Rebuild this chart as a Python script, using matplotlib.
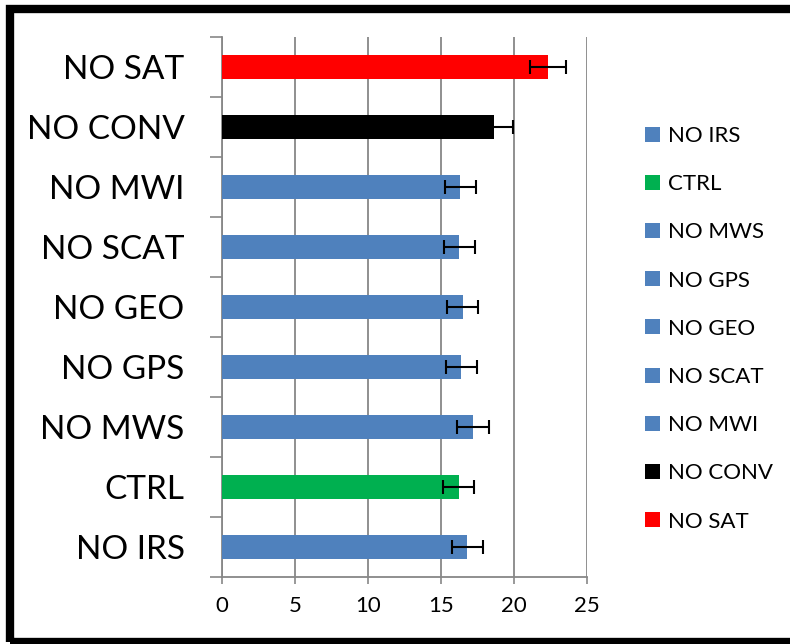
import matplotlib
matplotlib.use('Agg')
import matplotlib.pyplot as plt
from matplotlib.patches import Patch, Rectangle

plt.rcParams['font.family'] = ['Lato', 'DejaVu Sans']

# bottom to top, as in the chart
categories = ['NO IRS', 'CTRL', 'NO MWS', 'NO GPS', 'NO GEO', 'NO SCAT', 'NO MWI', 'NO CONV', 'NO SAT']
values = [16.8, 16.22, 17.18, 16.4, 16.48, 16.25, 16.32, 18.63, 22.33]
errors = [1.05, 1.07, 1.1, 1.05, 1.07, 1.05, 1.05, 1.3, 1.25]
colors = ['#4F81BD', '#00B050', '#4F81BD', '#4F81BD', '#4F81BD', '#4F81BD', '#4F81BD', '#000000', '#FF0000']
xticks = [0, 5, 10, 15, 20, 25]

W, H = 790, 644
fig = plt.figure(figsize=(W / 100, H / 100), dpi=100)
ax = fig.add_axes([222 / W, 1 - 577 / H, (587 - 222) / W, (577 - 37) / H])

grey = '#878787'
pos = list(range(len(categories)))
ax.barh(pos, values, height=0.4, color=colors, zorder=3)
ax.errorbar(values, pos, xerr=errors, fmt='none', ecolor='black',
            elinewidth=1.5, capsize=5, capthick=1.5, zorder=4)

ax.set_xlim(0, 25)
ax.set_ylim(-0.5, len(categories) - 0.5)
ax.set_xticks(xticks)
ax.set_xticklabels([str(t) for t in xticks], fontsize=16)
ax.tick_params(axis='x', length=5, width=1.2, color=grey, pad=9)

ax.set_yticks(pos)
ax.set_yticklabels(categories, fontsize=24)
ax.set_yticks([p - 0.5 for p in pos] + [len(categories) - 0.5], minor=True)
ax.tick_params(axis='y', which='major', length=0, pad=27)
ax.tick_params(axis='y', which='minor', length=8.5, width=1.2, color=grey)

ax.grid(axis='x', color=grey, linewidth=1.3, zorder=0)
for s in ['top', 'right']:
    ax.spines[s].set_visible(False)
for s in ['left', 'bottom']:
    ax.spines[s].set_color(grey)
    ax.spines[s].set_linewidth(1.3)

# legend lists the series top to bottom from NO IRS to NO SAT
handles = [Patch(facecolor=c, edgecolor='none') for c in colors]
fig.legend(handles, categories, loc='upper left', bbox_to_anchor=(636 / W, 1 - 117 / H),
           frameon=False, fontsize=16, handlelength=0.66, handleheight=0.66,
           handletextpad=0.38, labelspacing=1.27, borderaxespad=0)

fig.patches.append(Rectangle((10 / W, 1 - 642 / H), (W + 20) / W, (642 - 9) / H,
                             transform=fig.transFigure, fill=False, edgecolor='black',
                             linewidth=6, clip_on=False))

fig.savefig('out.png', dpi=100)
